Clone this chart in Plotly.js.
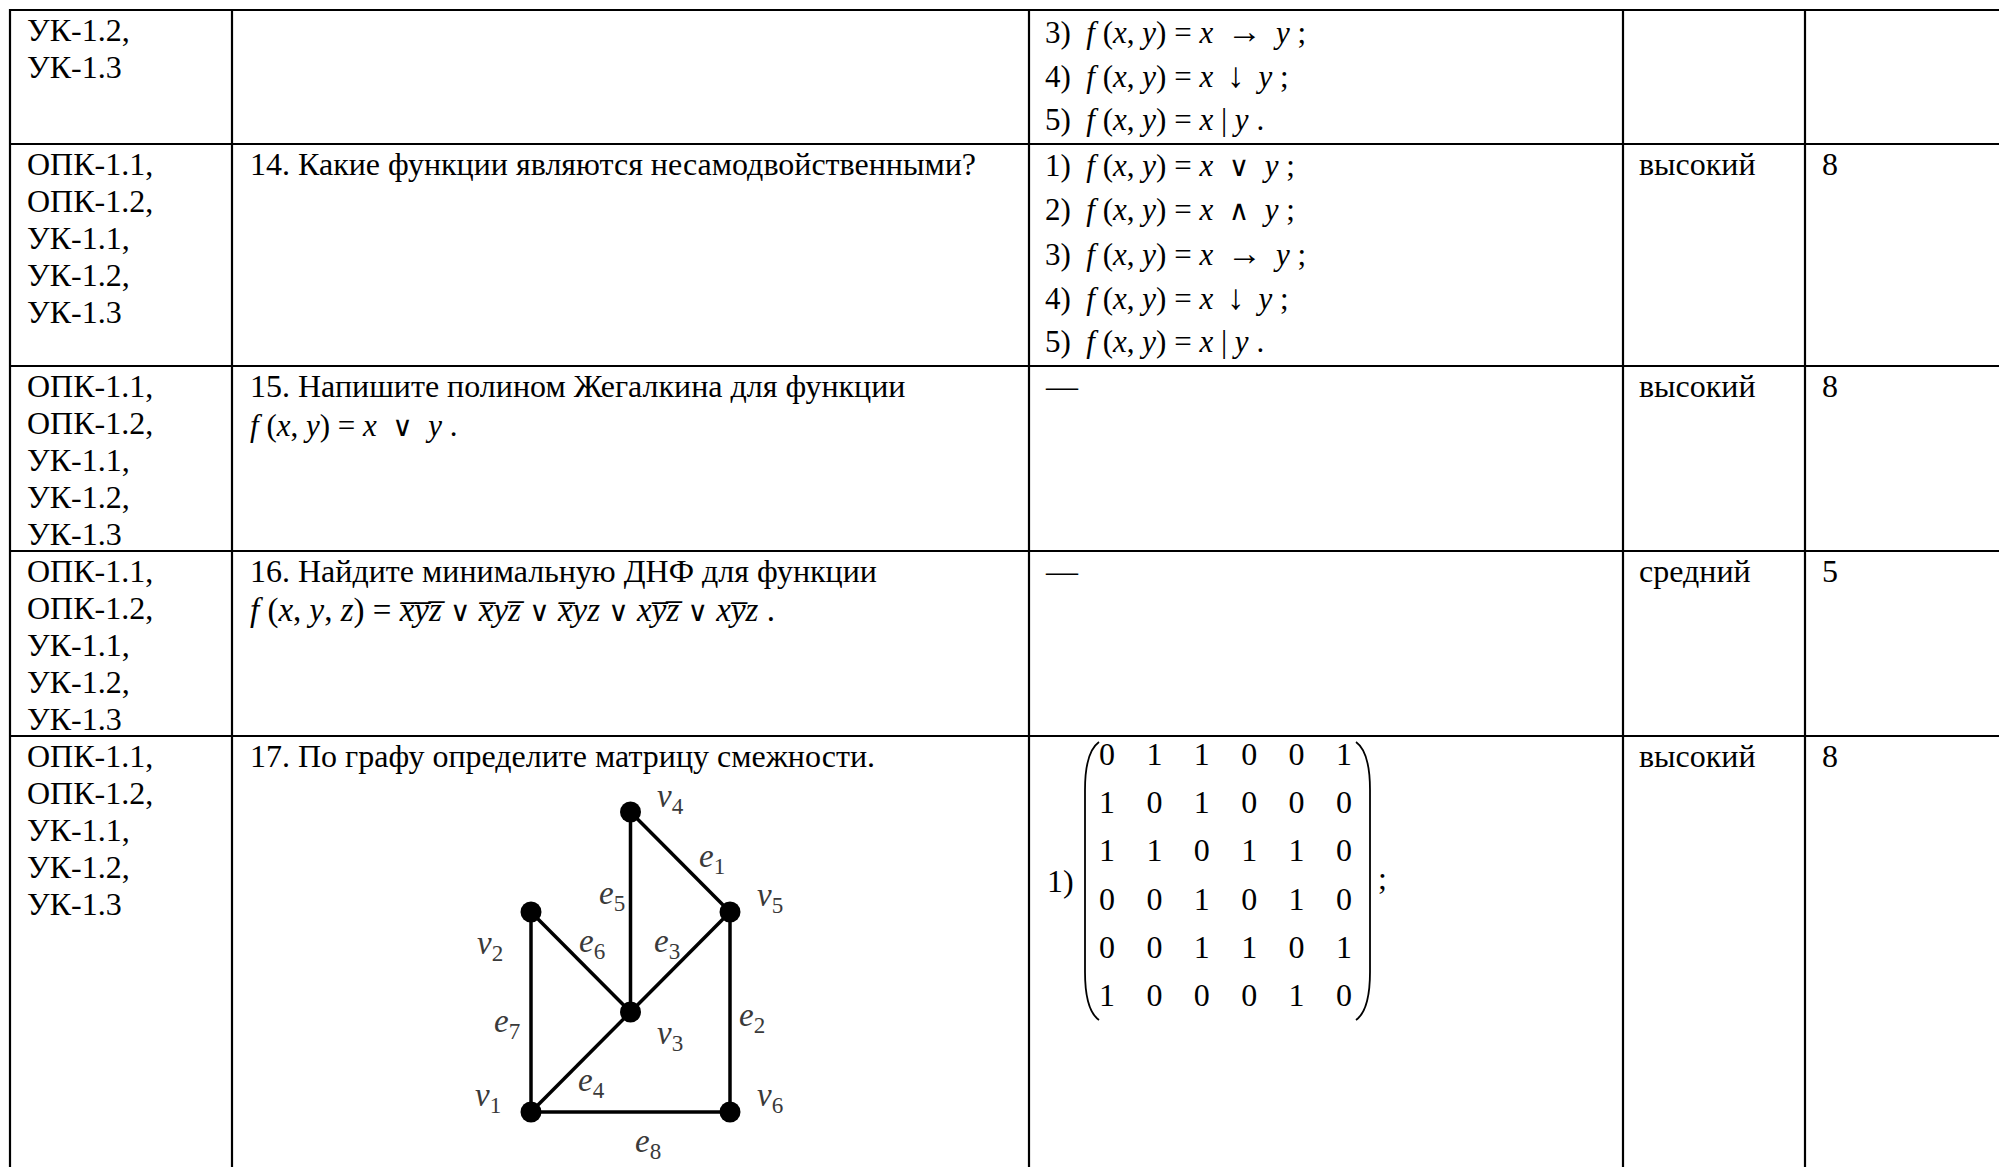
<!DOCTYPE html>
<html><head><meta charset="utf-8">
<script src="https://cdn.plot.ly/plotly-3.0.1.min.js"></script>
<style>html,body{margin:0;padding:0;background:#fff;overflow:hidden}#chart{width:1999px;height:1167px}</style>
</head><body><div id="chart"></div>
<script>
// ---------------- data ----------------
const competencies = [
  ["УК-1.2,", "УК-1.3"],
  ["ОПК-1.1,", "ОПК-1.2,", "УК-1.1,", "УК-1.2,", "УК-1.3"],
  ["ОПК-1.1,", "ОПК-1.2,", "УК-1.1,", "УК-1.2,", "УК-1.3"],
  ["ОПК-1.1,", "ОПК-1.2,", "УК-1.1,", "УК-1.2,", "УК-1.3"],
  ["ОПК-1.1,", "ОПК-1.2,", "УК-1.1,", "УК-1.2,", "УК-1.3"]
];
const questionTitles = [
  "",
  "14. Какие функции являются несамодвойственными?",
  "15. Напишите полином Жегалкина для функции",
  "16. Найдите минимальную ДНФ для функции",
  "17. По графу определите матрицу смежности."
];
// formula for questions: argument list and terms of the right-hand side ("~" marks an overlined letter)
const questionArgs = ["", "", "x,y", "x,y,z", ""];
const questionTerms = [[], [], ["x", "∨", "y"], ["~x~y~z", "∨", "~xy~z", "∨", "~xyz", "∨", "x~y~z", "∨", "x~yz"], []];
const answerNumbers = [[3, 4, 5], [1, 2, 3, 4, 5], [], [], []];
const answerOps = {1: "∨", 2: "∧", 3: "→", 4: "↓", 5: "|"};
const answerEnd = {1: ";", 2: ";", 3: ";", 4: ";", 5: "."};
const answerDash = ["", "", "—", "—", ""];
const levels = ["", "высокий", "высокий", "средний", "высокий"];
const points = ["", "8", "8", "5", "8"];
const adjacency = [
  [0, 1, 1, 0, 0, 1],
  [1, 0, 1, 0, 0, 0],
  [1, 1, 0, 1, 1, 0],
  [0, 0, 1, 0, 1, 0],
  [0, 0, 1, 1, 0, 1],
  [1, 0, 0, 0, 1, 0]
];
const vertexIds = ["1", "2", "3", "4", "5", "6"];
const vertexX = [0, 0, 1, 1, 2, 2];
const vertexY = [0, 2, 1, 3, 2, 0];
const edgeIds = ["1", "2", "3", "4", "5", "6", "7", "8"];
const edgeFrom = [3, 4, 4, 2, 3, 1, 1, 0];
const edgeTo   = [4, 5, 2, 0, 2, 2, 0, 5];

// ---------------- layout / style ----------------
const W = 1999, H = 1167;
const gridX = [10, 232, 1029, 1623, 1805];
const rowTop = [10, 144, 366, 551, 736];
const colTextX = [25, 248, 1043, 1637, 1820];
const FONT = "Liberation Serif, DejaVu Serif, serif";
const bodySize = 32, mathSize = 31;
const lineH = 37, mathLineH = 44, firstOff = 19.5;
const NB = "\u00a0", TH = "\u2009";
const vLabelOff = [[-0.43, 0.15], [-0.41, -0.33], [0.40, -0.23], [0.40, 0.14], [0.40, 0.15], [0.40, 0.15]];
const eLabelOff = [[0.32, 0.04], [0.22, -0.05], [-0.13, 0.19], [0.11, -0.20], [-0.19, 0.17], [0.11, 0.19], [-0.24, -0.11], [0.18, -0.31]];

function opSpan(op, wide) {
  if (op === "|") return NB + op + NB;
  const arrow = (op === "→" || op === "↓");
  const sz = arrow ? 35 : 28;
  const pad = arrow ? NB + TH : (wide ? NB + NB : NB);
  return pad + '<span style="font-size:' + sz + 'px">' + op + '</span>' + pad;
}
function mathVar(s) {
  // "~" before a letter => overline
  let out = "";
  for (let i = 0; i < s.length; i++) {
    if (s[i] === "~") { out += s[i + 1] + "\u0305"; i++; } else out += s[i];
  }
  return "<i>" + out + "</i>";
}
function fHead(args) {
  return "<i>f</i>" + NB + "(" + args.split(",").map(a => "<i>" + a + "</i>").join(", ") + ")" + NB + "=" + NB;
}

const shapes = [];
const lineStyle = {color: "#000", width: 2.2};
rowTop.forEach(y => shapes.push({type: "line", xref: "x", yref: "y", x0: gridX[0] - 1, x1: W, y0: y, y1: y, line: lineStyle}));
gridX.forEach(x => shapes.push({type: "line", xref: "x", yref: "y", x0: x, x1: x, y0: rowTop[0] - 1, y1: H, line: lineStyle}));
// matrix brackets
shapes.push({type: "path", xref: "x", yref: "y", path: "M 1099 742 Q 1085 752 1085 790 L 1085 972 Q 1085 1010 1099 1020", line: {color: "#000", width: 1.8}});
shapes.push({type: "path", xref: "x", yref: "y", path: "M 1356 742 Q 1370 752 1370 790 L 1370 972 Q 1370 1010 1356 1020", line: {color: "#000", width: 1.8}});

const ann = [];
function txt(x, y, text, size, extra) {
  ann.push(Object.assign({xref: "x", yref: "y", x: x, y: y, text: text, showarrow: false,
    xanchor: "left", yanchor: "middle", font: {family: FONT, size: size, color: "#000"}}, extra || {}));
}
for (let r = 0; r < rowTop.length; r++) {
  competencies[r].forEach((t, i) => txt(colTextX[0], rowTop[r] + firstOff + i * lineH, t, bodySize));
  if (questionTitles[r]) txt(colTextX[1], rowTop[r] + firstOff, questionTitles[r], bodySize);
  if (questionArgs[r]) {
    const long = questionTerms[r].length > 3;
    const rhs = questionTerms[r].map(t => (t === "∨" ? opSpan(t, !long) : mathVar(t))).join("");
    txt(colTextX[1], rowTop[r] + firstOff + 40, fHead(questionArgs[r]) + rhs + NB + ".", long ? 33 : mathSize);
  }
  answerNumbers[r].forEach((n, i) => {
    const t = n + ")" + NB + NB + fHead("x,y") + "<i>x</i>" + opSpan(answerOps[n], true) + "<i>y</i>" + NB + answerEnd[n];
    txt(colTextX[2], rowTop[r] + 21 + i * mathLineH, t, mathSize);
  });
  if (answerDash[r]) txt(colTextX[2], rowTop[r] + firstOff, answerDash[r], bodySize);
  if (levels[r]) txt(colTextX[3], rowTop[r] + firstOff, levels[r], bodySize);
  if (points[r]) txt(colTextX[4], rowTop[r] + firstOff, points[r], bodySize);
}
// matrix answer prefix and terminator
txt(1045, 881, "1)", bodySize);
txt(1376, 878, ";", bodySize);

// graph labels
const gFont = {family: FONT, size: 33, color: "#3a3a3a"};
vertexIds.forEach((id, i) => ann.push({xref: "x2", yref: "y2", x: vertexX[i] + vLabelOff[i][0], y: vertexY[i] + vLabelOff[i][1],
  text: "<i>v</i><sub>" + id + "</sub>", showarrow: false, font: gFont}));
edgeIds.forEach((id, k) => {
  const mx = (vertexX[edgeFrom[k]] + vertexX[edgeTo[k]]) / 2, my = (vertexY[edgeFrom[k]] + vertexY[edgeTo[k]]) / 2;
  ann.push({xref: "x2", yref: "y2", x: mx + eLabelOff[k][0], y: my + eLabelOff[k][1],
    text: "<i>e</i><sub>" + id + "</sub>", showarrow: false, font: gFont});
});

// graph traces
const ex = [], ey = [];
edgeFrom.forEach((a, k) => { const b = edgeTo[k]; ex.push(vertexX[a], vertexX[b], null); ey.push(vertexY[a], vertexY[b], null); });
const edgeTrace = {type: "scatter", mode: "lines", x: ex, y: ey, xaxis: "x2", yaxis: "y2",
  line: {color: "#000", width: 3.5}, hoverinfo: "skip", showlegend: false};
const nodeTrace = {type: "scatter", mode: "markers", x: vertexX, y: vertexY, xaxis: "x2", yaxis: "y2",
  marker: {color: "#000", size: 21}, hoverinfo: "skip", showlegend: false};

// matrix trace
const mxs = [], mys = [], mts = [];
adjacency.forEach((row, i) => row.forEach((v, j) => { mxs.push(j); mys.push(i); mts.push(String(v)); }));
const matrixTrace = {type: "scatter", mode: "text", x: mxs, y: mys, text: mts, xaxis: "x3", yaxis: "y3",
  textposition: "middle center", textfont: {family: FONT, size: 32, color: "#000"}, hoverinfo: "skip", showlegend: false};

const hidden = {visible: false, showgrid: false, zeroline: false, fixedrange: true};
const layout = {
  width: W, height: H, margin: {l: 0, r: 0, t: 0, b: 0, pad: 0},
  paper_bgcolor: "#fff", plot_bgcolor: "rgba(0,0,0,0)", showlegend: false,
  xaxis: Object.assign({range: [0, W], domain: [0, 1]}, hidden),
  yaxis: Object.assign({range: [H, 0], domain: [0, 1]}, hidden),
  xaxis2: Object.assign({range: [-1, 3], domain: [431.5 / W, 829.5 / W], anchor: "y2"}, hidden),
  yaxis2: Object.assign({range: [-0.5, 3.5], domain: [(H - 1162) / H, (H - 762) / H], anchor: "x2"}, hidden),
  xaxis3: Object.assign({range: [-0.5, 5.5], domain: [1083.3 / W, 1367.7 / W], anchor: "y3"}, hidden),
  yaxis3: Object.assign({range: [5.5, -0.5], domain: [(H - 1022.1) / H, (H - 732.9) / H], anchor: "x3"}, hidden),
  shapes: shapes, annotations: ann
};
Plotly.newPlot("chart", [edgeTrace, nodeTrace, matrixTrace], layout, {staticPlot: true, displayModeBar: false});
</script></body></html>
